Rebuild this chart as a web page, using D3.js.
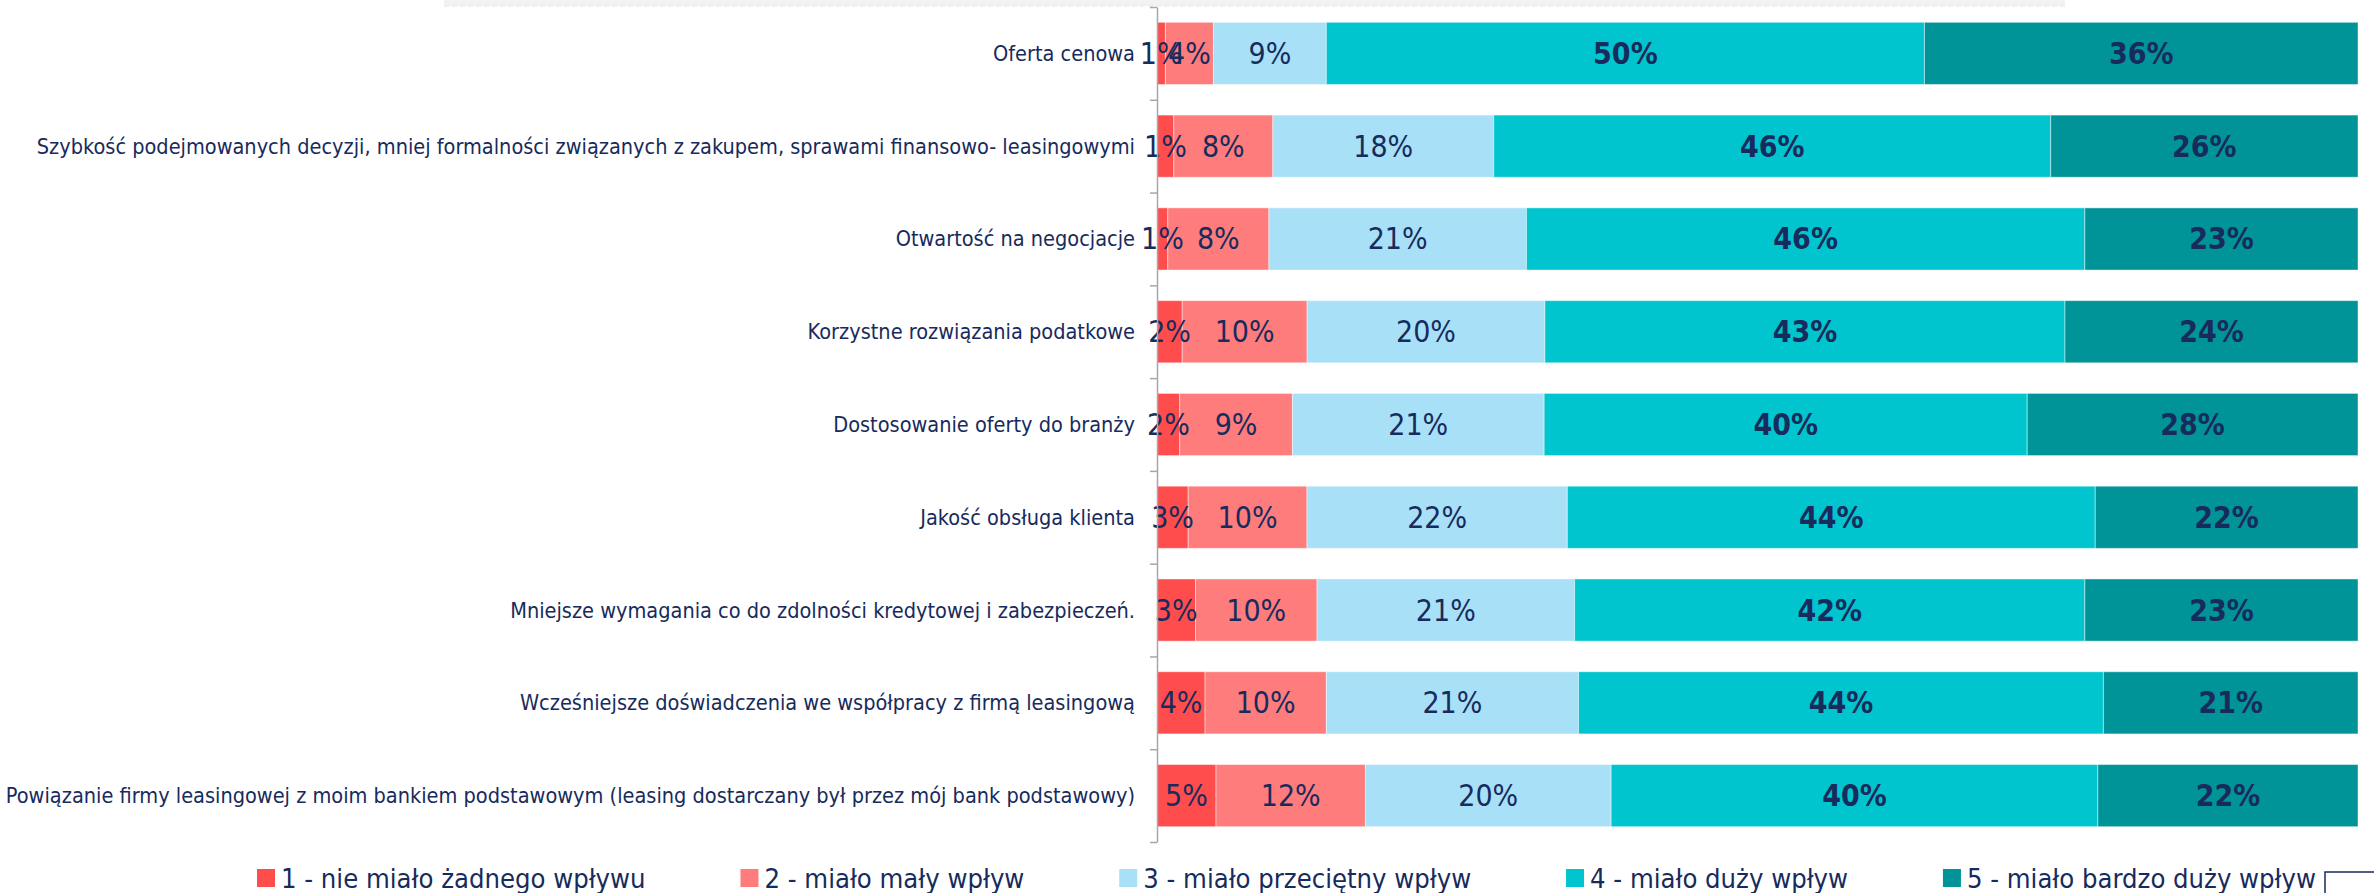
<!DOCTYPE html>
<html>
<head>
<meta charset="utf-8">
<script src="https://cdn.jsdelivr.net/npm/d3@7"></script>
<style>
    body { margin: 0; background: #fff; }
    svg { display: block; }
</style>
</head>
<body>
<div id="chart"></div>
<script>

// categories (top to bottom)
const categories = [
    "Oferta cenowa",
    "Szybkość podejmowanych decyzji, mniej formalności związanych z zakupem, sprawami finansowo- leasingowymi",
    "Otwartość na negocjacje",
    "Korzystne rozwiązania podatkowe",
    "Dostosowanie oferty do branży",
    "Jakość obsługa klienta",
    "Mniejsze wymagania co do zdolności kredytowej i zabezpieczeń.",
    "Wcześniejsze doświadczenia we współpracy z firmą leasingową",
    "Powiązanie firmy leasingowej z moim bankiem podstawowym (leasing dostarczany był przez mój bank podstawowy)"
];

const seriesNames = [
    "1 - nie miało żadnego wpływu",
    "2 - miało mały wpływ",
    "3 - miało przeciętny wpływ",
    "4 - miało duży wpływ",
    "5 - miało bardzo duży wpływ"
];

// shares in %
const s1 = [0.7, 1.4, 0.9, 2.1, 1.9, 2.6, 3.2, 4.0, 4.9];
const s2 = [4.0, 8.25, 8.4, 10.4, 9.4, 9.9, 10.1, 10.1, 12.4];
const s3 = [9.4, 18.4, 21.4, 19.8, 21.0, 21.7, 21.4, 21.0, 20.4];
const s4 = [49.8, 46.4, 46.4, 43.3, 40.3, 44.0, 42.4, 43.7, 40.4];
const s5 = [36.1, 25.6, 22.7, 24.4, 27.6, 21.9, 22.7, 21.2, 21.6];

const colors = ["#ff4d4d", "#ff7c7c", "#a8e0f8", "#00c5ce", "#009499"];
const textColor = "#172b5c";

const W = 2374, H = 893;
const fontFamily = "'Liberation Sans Narrow', 'DejaVu Sans Condensed', 'Arial Narrow', sans-serif";

let svg = d3.select("#chart").append("svg")
    .attr("width", W)
    .attr("height", H)
    .style("font-family", fontFamily);

// grey strip at the top (remains of the title area)
svg.append("rect")
    .attr("x", 444).attr("y", 0)
    .attr("width", 2065 - 444).attr("height", 6)
    .attr("fill", "#f2f2f2");
svg.append("line")
    .attr("x1", 444).attr("x2", 2065)
    .attr("y1", 6).attr("y2", 6)
    .attr("stroke", "#e6e6e6")
    .attr("stroke-dasharray", "5,3");

// build rows for the stack
let rows = categories.map((c, i) => ({
    cat: c, s1: s1[i], s2: s2[i], s3: s3[i], s4: s4[i], s5: s5[i]
}));
let keys = ["s1", "s2", "s3", "s4", "s5"];

let stack = d3.stack().keys(keys).offset(d3.stackOffsetExpand);
let stacked = stack(rows);

// scales
let plotLeft = 1157, plotRight = 2358, plotTop = 7, plotBottom = 842;

let x = d3.scaleLinear()
    .domain([0, 1])
    .range([plotLeft, plotRight]);

let y = d3.scaleBand()
    .domain(categories)
    .range([plotTop, plotBottom])
    .paddingInner(0.33)
    .paddingOuter(0.165);

// font sizes fitted to the width of the longest category label
let probe = svg.append("text")
    .style("font-size", "23px")
    .text(categories[1]);
let k = 1099 / probe.node().getComputedTextLength();
probe.remove();
let catSize = 23 * k, valSize = 32 * k, legSize = 29 * k;

// bars
let groups = svg.selectAll(".series")
    .data(stacked)
    .enter().append("g")
    .attr("class", "series")
    .attr("fill", (d, i) => colors[i]);

groups.selectAll("rect")
    .data(d => d)
    .enter().append("rect")
    .attr("x", d => x(d[0]))
    .attr("y", d => y(d.data.cat))
    .attr("width", d => x(d[1]) - x(d[0]))
    .attr("height", y.bandwidth())
    .attr("stroke", "rgba(255,255,255,0.45)")
    .attr("stroke-width", 1);

// value labels, drawn on top of all bars
let labelLayer = svg.append("g").attr("class", "labels");
stacked.forEach((series, si) => {
    labelLayer.append("g").selectAll("text")
        .data(series)
        .enter().append("text")
        .attr("x", d => (x(d[0]) + x(d[1])) / 2)
        .attr("y", d => y(d.data.cat) + y.bandwidth() / 2)
        .attr("dy", "0.35em")
        .attr("text-anchor", "middle")
        .attr("fill", textColor)
        .style("font-size", valSize + "px")
        .style("font-weight", si >= 3 ? "bold" : "normal")
        .text(d => Math.round(d.data[series.key]) + "%");
});

// category axis: line with ticks at band boundaries
let bounds = d3.scaleLinear()
    .domain([0, categories.length])
    .range([plotTop, plotBottom]);

let yAxis = d3.axisLeft(bounds)
    .tickValues(d3.range(categories.length + 1))
    .tickSize(7)
    .tickSizeOuter(0)
    .tickFormat("");

let axisG = svg.append("g")
    .attr("transform", `translate(${plotLeft}, 0)`)
    .call(yAxis);
axisG.selectAll("path, line").attr("stroke", "#a6a6b0").attr("stroke-width", 1.5);

// category labels
svg.append("g")
    .selectAll("text")
    .data(categories)
    .enter().append("text")
    .attr("x", plotLeft - 22)
    .attr("y", d => y(d) + y.bandwidth() / 2)
    .attr("dy", "0.35em")
    .attr("text-anchor", "end")
    .attr("fill", textColor)
    .style("font-size", catSize + "px")
    .text(d => d);

// legend
let legend = svg.append("g").attr("class", "legend");
let sq = 18, sqGap = 6;
let items = legend.selectAll("g")
    .data(seriesNames)
    .enter().append("g");

items.append("rect")
    .attr("width", sq).attr("height", sq)
    .attr("y", 878 - sq / 2)
    .attr("fill", (d, i) => colors[i]);

items.append("text")
    .attr("x", sq + sqGap)
    .attr("y", 878)
    .attr("dy", "0.35em")
    .attr("fill", textColor)
    .style("font-size", legSize + "px")
    .text(d => d);

let widths = [];
items.each(function() { widths.push(this.getBBox().width); });
let legStart = 257, legEnd = 2316;
let gap = (legEnd - legStart - d3.sum(widths)) / (widths.length - 1);
let pos = legStart;
items.attr("transform", (d, i) => {
    let t = `translate(${pos}, 0)`;
    pos += widths[i] + gap;
    return t;
});

// corner of the legend frame
svg.append("path")
    .attr("d", `M2325,${H} V872 H${W}`)
    .attr("fill", "none")
    .attr("stroke", textColor)
    .attr("stroke-width", 1.5);

</script>
</body>
</html>
